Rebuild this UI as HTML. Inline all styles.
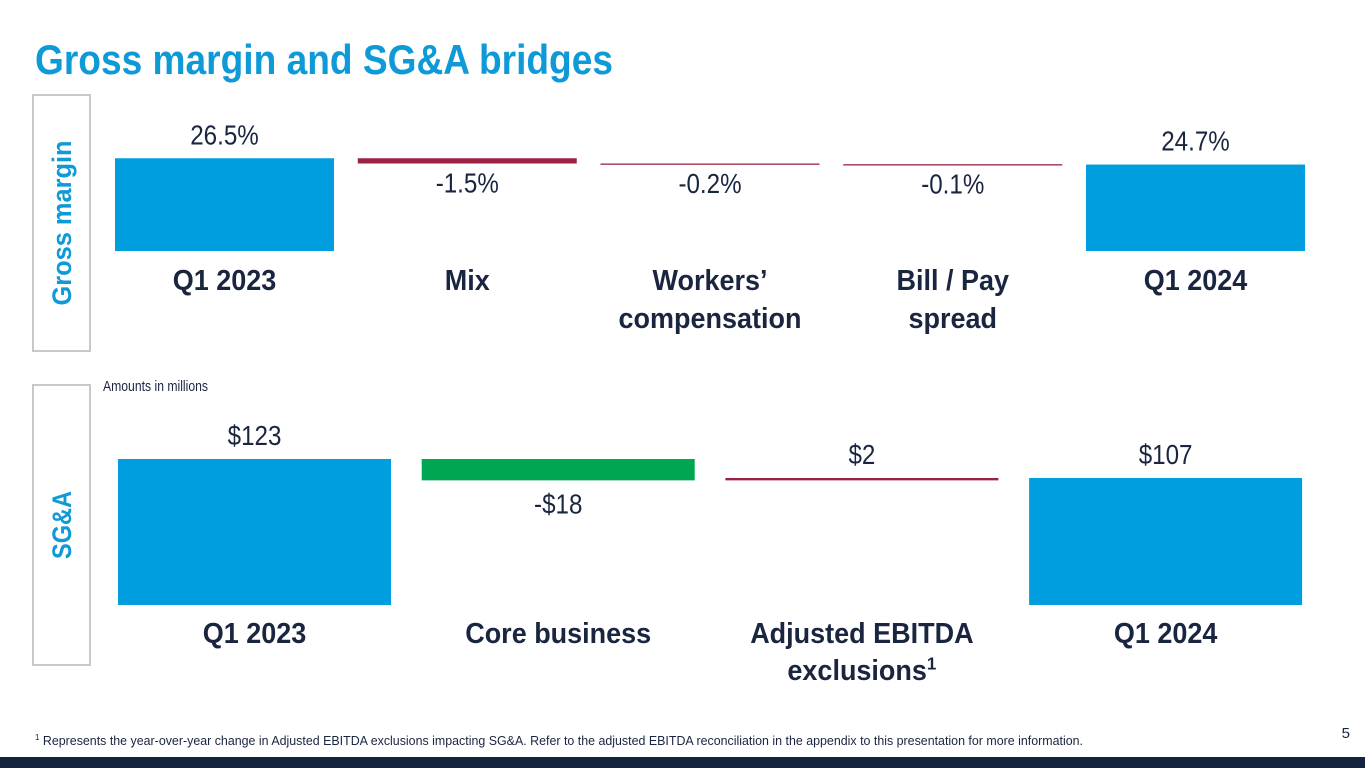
<!DOCTYPE html>
<html><head><meta charset="utf-8"><style>
html,body{margin:0;padding:0;background:#fff;}
svg{display:block;font-family:"Liberation Sans Narrow","Liberation Sans",sans-serif;}
</style></head><body>
<svg id="s" width="1365" height="768" viewBox="0 0 1365 768" xmlns="http://www.w3.org/2000/svg">
<text x="35" y="74" font-size="42" font-weight="bold" fill="#0e9ad7" textLength="578" lengthAdjust="spacingAndGlyphs">Gross margin and SG&amp;A bridges</text>
<rect x="33" y="95" width="57" height="256" fill="#fff" stroke="#c8c8c8" stroke-width="2"/>
<text transform="translate(71,223) rotate(-90)" text-anchor="middle" font-size="27" font-weight="bold" fill="#0e9ad7" textLength="165" lengthAdjust="spacingAndGlyphs">Gross margin</text>
<rect x="33" y="385" width="57" height="280" fill="#fff" stroke="#c8c8c8" stroke-width="2"/>
<text transform="translate(71,525) rotate(-90)" text-anchor="middle" font-size="27" font-weight="bold" fill="#0e9ad7" textLength="68" lengthAdjust="spacingAndGlyphs">SG&amp;A</text>
<text x="103" y="391" font-size="15" fill="#1a2540" textLength="105" lengthAdjust="spacingAndGlyphs">Amounts in millions</text>
<g id="gm"></g>
<g id="sga"></g>
<text x="35" y="745" font-size="12.5" fill="#1a2540" textLength="1048" lengthAdjust="spacingAndGlyphs"><tspan font-size="8" dy="-5">1</tspan><tspan dy="5"> Represents the year-over-year change in Adjusted EBITDA exclusions impacting SG&amp;A. Refer to the adjusted EBITDA reconciliation in the appendix to this presentation for more information.</tspan></text>
<text x="1350" y="738" text-anchor="end" font-size="15" fill="#1a2540">5</text>
<rect x="0" y="757" width="1365" height="11" fill="#14243f"/>
</svg>
<script>
const NS='http://www.w3.org/2000/svg';
const gmCategories=[['Q1 2023'],['Mix'],['Workers’','compensation'],['Bill / Pay','spread'],['Q1 2024']];
const gmValues=[26.5,-1.5,-0.2,-0.1,24.7];
const gmLabels=['26.5%','-1.5%','-0.2%','-0.1%','24.7%'];
const gmTypes=['total','delta','delta','delta','total'];
const sgaCategories=[['Q1 2023'],['Core business'],['Adjusted EBITDA','exclusions¹'],['Q1 2024']];
const sgaValues=[123,-18,2,107];
const sgaLabels=['$123','-$18','$2','$107'];
const sgaTypes=['total','delta','delta','total'];

function el(tag,attrs,parent){const e=document.createElementNS(NS,tag);for(const k in attrs)e.setAttribute(k,attrs[k]);parent.appendChild(e);return e;}

function drawBridge(gid,cats,vals,labels,types,opt){
  const g=document.getElementById(gid);
  const y=v=>opt.base-v*opt.scale;
  let run=0;
  cats.forEach((c,i)=>{
    const x0=opt.x0+i*opt.step, v=vals[i];
    let top,bot,color;
    if(types[i]==='total'){top=y(v);bot=y(0);run=v;color=opt.blue;}
    else{const a=run,b=run+v;top=y(Math.max(a,b));bot=y(Math.min(a,b));run=b;color=v<0?opt.neg:opt.pos;}
    const h=Math.max(bot-top,1.3);
    const r=el('rect',{x:x0,y:top,width:opt.w,height:h,fill:color},g);
    
    
    const cx=x0+opt.w/2;
    let ly;
    if(types[i]==='total'||v>0) ly=top-14; else ly=bot+opt.belowGap;
    const t=el('text',{transform:'translate('+cx+','+ly+') scale(0.93,1.05)','text-anchor':'middle','font-size':opt.vfs,fill:'#1a2540'},g);
    t.textContent=labels[i];
    
    
    c.forEach((line,j)=>{
      const ct=el('text',{transform:'translate('+cx+','+(opt.catY+j*opt.lh)+') scale(1,1.05)','text-anchor':'middle','font-size':opt.cfs,'font-weight':'bold',fill:'#1a2540'},g);
      if(line.endsWith('¹')){ct.textContent=line.slice(0,-1);const sp=el('tspan',{'font-size':17,dy:-10},ct);sp.textContent='1';}
      else ct.textContent=line;
      
      
    });
  });
}
drawBridge('gm',gmCategories,gmValues,gmLabels,gmTypes,{x0:115,step:242.75,w:219,base:251,scale:3.5,blue:'#009ddf',pos:'#00a651',neg:'#9b2242',vfs:26,cfs:27,catY:290,lh:38,belowGap:29});
drawBridge('sga',sgaCategories,sgaValues,sgaLabels,sgaTypes,{x0:118,step:303.7,w:273,base:605,scale:1.187,blue:'#009ddf',pos:'#9b2242',neg:'#00a651',vfs:26,cfs:27,catY:643,lh:37,belowGap:33});
</script>
</body></html>
